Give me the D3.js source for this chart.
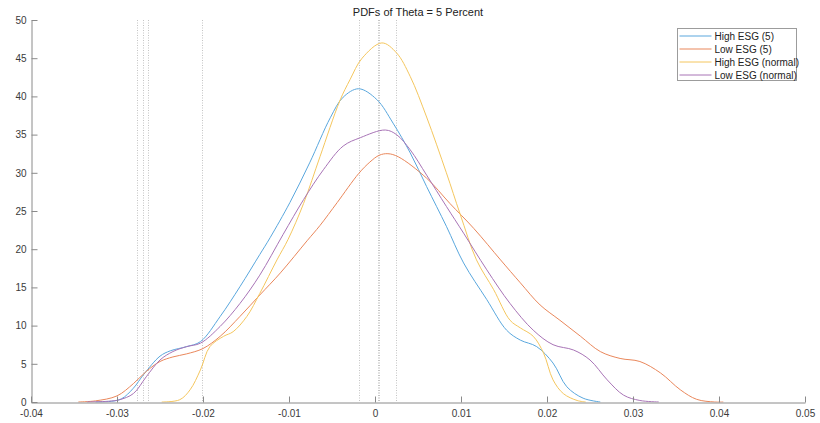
<!DOCTYPE html>
<html>
<head>
<meta charset="utf-8">
<script src="https://cdn.jsdelivr.net/npm/d3@7"></script>
<style>
  body { margin: 0; background: #fff; }
  svg { font-family: "Liberation Sans", Arial, Helvetica, sans-serif; }
</style>
</head>
<body>
<div id="chart"></div>
<script>
// density curves, [x, density]
var highEsg5 = [
  [-0.0325, 0], [-0.031, 0.05], [-0.0295, 0.4], [-0.0281, 1.8], [-0.0269, 3.6],
  [-0.025, 6.0], [-0.0238, 6.7], [-0.0219, 7.25], [-0.0203, 7.9], [-0.018, 11.2],
  [-0.0157, 15.1], [-0.0134, 19.3], [-0.0122, 21.5], [-0.0099, 26.1], [-0.0076, 31.3],
  [-0.0052, 37.2], [-0.0037, 39.9], [-0.0019, 41.0], [0.0002, 39.6], [0.0021, 36.5],
  [0.0041, 32.6], [0.006, 28.2], [0.0083, 23.0], [0.0103, 18.2], [0.013, 13.4],
  [0.0153, 9.4], [0.0169, 8.1], [0.0188, 7.25], [0.0207, 5.1], [0.0223, 2.0],
  [0.0242, 0.5], [0.0262, 0]
];
var lowEsg5 = [
  [-0.0345, 0], [-0.0325, 0.15], [-0.030, 0.8], [-0.0281, 2.4], [-0.0266, 4.0],
  [-0.025, 5.3], [-0.0235, 5.9], [-0.0219, 6.3], [-0.02, 7.0], [-0.018, 8.6],
  [-0.0157, 11.2], [-0.0134, 14.0], [-0.011, 16.9], [-0.0079, 21.1], [-0.0064, 23.1],
  [-0.0044, 26.1], [-0.0019, 29.9], [-0.0006, 31.4], [0.0005, 32.3], [0.0015, 32.5],
  [0.0027, 32.1], [0.006, 29.3], [0.0087, 26.0], [0.0115, 22.7], [0.0146, 18.6],
  [0.0169, 15.6], [0.0192, 12.7], [0.0215, 10.7], [0.0239, 8.6], [0.0262, 6.6],
  [0.0285, 5.7], [0.0308, 5.3], [0.0332, 3.8], [0.0355, 1.6], [0.0374, 0.35],
  [0.0395, 0], [0.0405, 0]
];
var highEsgNormal = [
  [-0.0248, 0], [-0.0227, 0.3], [-0.0215, 1.6], [-0.0203, 4.2], [-0.0192, 7.25],
  [-0.0176, 8.6], [-0.0165, 9.2], [-0.0149, 11.2], [-0.0134, 14.2], [-0.0114, 18.6],
  [-0.0101, 21.3], [-0.0083, 26.0], [-0.0064, 32.1], [-0.0041, 39.4], [-0.0029, 42.2],
  [-0.0015, 45.0], [0.0008, 47.0], [0.0025, 45.7], [0.0041, 42.6], [0.006, 37.3],
  [0.0083, 30.0], [0.0099, 24.6], [0.0118, 18.6], [0.0138, 14.7], [0.0157, 10.7],
  [0.0169, 9.7], [0.0184, 8.6], [0.0196, 6.4], [0.0207, 2.9], [0.0219, 1.1],
  [0.0235, 0.2], [0.0245, 0]
];
var lowEsgNormal = [
  [-0.0335, 0], [-0.031, 0.1], [-0.0297, 0.3], [-0.0281, 1.1], [-0.0266, 3.3],
  [-0.025, 5.5], [-0.0235, 6.6], [-0.0219, 7.25], [-0.0203, 7.7], [-0.018, 9.9],
  [-0.0157, 12.9], [-0.0134, 16.6], [-0.0107, 21.9], [-0.0083, 26.5], [-0.006, 30.4],
  [-0.0037, 33.5], [-0.0017, 34.6], [0.0012, 35.6], [0.0025, 35.0], [0.0041, 33.0],
  [0.006, 29.7], [0.0083, 25.6], [0.0103, 22.1], [0.013, 17.3], [0.0157, 12.9],
  [0.0184, 9.4], [0.0207, 7.5], [0.0231, 6.8], [0.025, 5.5], [0.027, 2.9],
  [0.0289, 0.9], [0.0308, 0.2], [0.033, 0]
];

var seriesNames = ["High ESG (5)", "Low ESG (5)", "High ESG (normal)", "Low ESG (normal)"];
var seriesColors = ["#5aa7dd", "#e9875b", "#f4c65e", "#a874b6"];

// dotted vertical markers
var markerLines = [-0.02764, -0.02694, -0.02636, -0.02007, -0.00181, 0.00033, 0.00048, 0.00242];

var xTicks = [-0.04, -0.03, -0.02, -0.01, 0, 0.01, 0.02, 0.03, 0.04, 0.05];
var xTickLabels = ["-0.04", "-0.03", "-0.02", "-0.01", "0", "0.01", "0.02", "0.03", "0.04", "0.05"];
var yTicks = [0, 5, 10, 15, 20, 25, 30, 35, 40, 45, 50];

var titleText = "PDFs of Theta = 5 Percent";

var W = 820, H = 423;
var margin = {left: 31, right: 15, top: 20, bottom: 21};

var svg = d3.select("#chart")
  .append("svg")
  .attr("width", W)
  .attr("height", H);

var x = d3.scaleLinear().domain([-0.04, 0.05]).range([margin.left, W - margin.right]);
var y = d3.scaleLinear().domain([0, 50]).range([H - margin.bottom, margin.top]);

// keep curves above the baseline
svg.append("clipPath")
  .attr("id", "plotclip")
  .append("rect")
  .attr("x", x(-0.04))
  .attr("y", y(50) - 2)
  .attr("width", x(0.05) - x(-0.04))
  .attr("height", y(0) - y(50) + 2.5);

// marker lines
svg.append("g")
  .selectAll("line")
  .data(markerLines)
  .join("line")
  .attr("x1", function(d) { return Math.round(x(d)) + 0.5; })
  .attr("x2", function(d) { return Math.round(x(d)) + 0.5; })
  .attr("y1", y(50))
  .attr("y2", y(0))
  .attr("stroke", "#c4c4c4")
  .attr("stroke-width", 1)
  .attr("stroke-dasharray", "1,1.5");

var line = d3.line()
  .x(function(d) { return x(d[0]); })
  .y(function(d) { return y(d[1]); })
  .curve(d3.curveCatmullRom.alpha(0.5));

var allSeries = [highEsg5, lowEsg5, highEsgNormal, lowEsgNormal];

svg.append("g")
  .attr("clip-path", "url(#plotclip)")
  .selectAll("path")
  .data(allSeries)
  .join("path")
  .attr("d", line)
  .attr("fill", "none")
  .attr("stroke", function(d, i) { return seriesColors[i]; })
  .attr("stroke-width", 1);

// axes
var xAxis = d3.axisBottom(x)
  .tickValues(xTicks)
  .tickFormat(function(d, i) { return xTickLabels[i]; })
  .tickSizeInner(-6)
  .tickSizeOuter(0)
  .tickPadding(7);

var yAxis = d3.axisLeft(y)
  .tickValues(yTicks)
  .tickSizeInner(-6)
  .tickSizeOuter(0)
  .tickPadding(5);

var gx = svg.append("g")
  .attr("transform", "translate(0," + (y(0) + 0.5) + ")")
  .call(xAxis);

var gy = svg.append("g")
  .attr("transform", "translate(" + (margin.left + 0.5) + ",0)")
  .call(yAxis);

[gx, gy].forEach(function(g) {
  g.select(".domain").attr("stroke", "#8a8a8a");
  g.selectAll(".tick line").attr("stroke", "#8a8a8a");
  g.selectAll(".tick text")
    .attr("fill", "#3a3a3a")
    .attr("font-size", 10)
    .attr("font-family", "'Liberation Sans', Arial, sans-serif");
});

// title
svg.append("text")
  .attr("x", (x.range()[0] + x.range()[1]) / 2)
  .attr("y", 16)
  .attr("text-anchor", "middle")
  .attr("font-size", 11)
  .attr("fill", "#222")
  .text(titleText);

// legend
var legend = svg.append("g").attr("transform", "translate(677.5,28.5)");
legend.append("rect")
  .attr("width", 119)
  .attr("height", 52)
  .attr("fill", "#fff")
  .attr("stroke", "#9c9c9c");

var items = legend.selectAll("g.item")
  .data(seriesNames)
  .join("g")
  .attr("class", "item")
  .attr("transform", function(d, i) { return "translate(0," + (7.5 + i * 13) + ")"; });

items.append("line")
  .attr("x1", 2)
  .attr("x2", 34)
  .attr("stroke", function(d, i) { return seriesColors[i]; })
  .attr("stroke-width", 1);

items.append("text")
  .attr("x", 37)
  .attr("dy", "0.35em")
  .attr("font-size", 10)
  .attr("fill", "#222")
  .text(function(d) { return d; });
</script>
</body>
</html>
